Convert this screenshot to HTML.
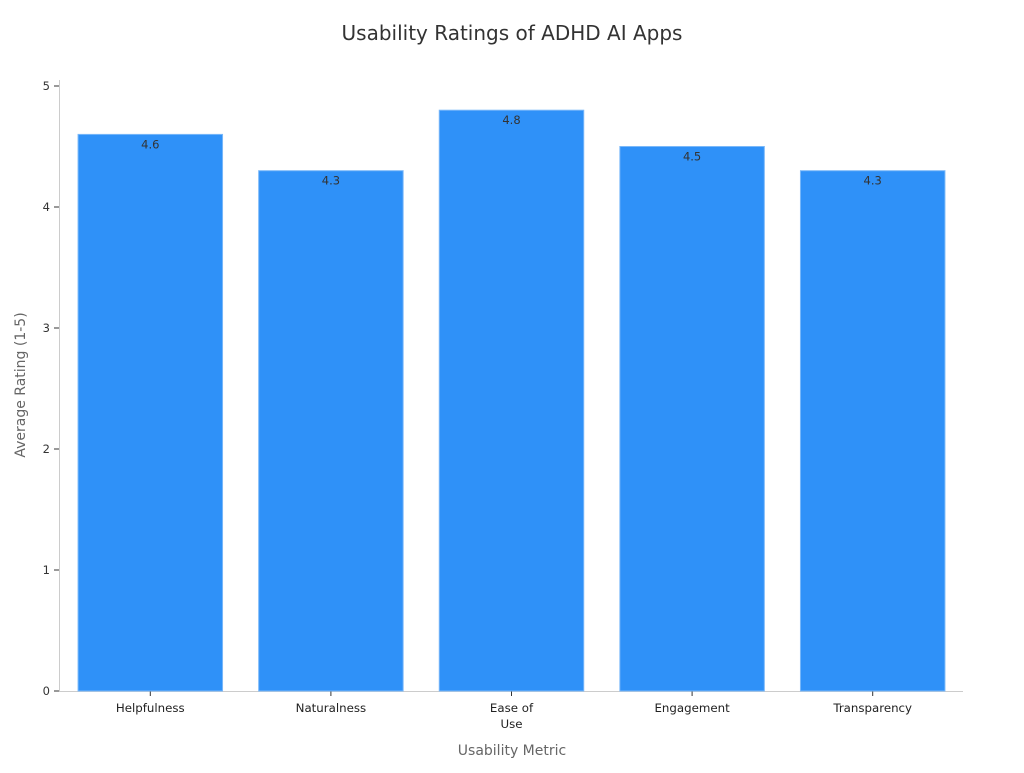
<!DOCTYPE html>
<html><head><meta charset="utf-8"><style>
body{margin:0;background:#fff;width:1024px;height:768px;overflow:hidden}
svg text{font-family:"DejaVu Sans","Liberation Sans",sans-serif}
</style></head><body>
<svg id="chart" width="1024" height="768">
<text x="512" y="40" text-anchor="middle" font-size="20" fill="#333">Usability Ratings of ADHD AI Apps</text>
<g id="yaxis"></g>
<g id="xaxis"></g>
<g id="bars"></g>
<text x="512" y="755" text-anchor="middle" font-size="14" fill="#666">Usability Metric</text>
<text transform="translate(25,385) rotate(-90)" text-anchor="middle" font-size="14" fill="#666">Average Rating (1-5)</text>
</svg>
<script>
const categories=[["Helpfulness"],["Naturalness"],["Ease of","Use"],["Engagement"],["Transparency"]];
const values=[4.6,4.3,4.8,4.5,4.3];
const valueLabels=["4.6","4.3","4.8","4.5","4.3"];
const yTicks=[0,1,2,3,4,5];
const NS="http://www.w3.org/2000/svg";
const x0=60,x1=963,y0=691,y5=86;
const yScale=v=>y0-(v/5)*(y0-y5);
const band=(x1-x0)/categories.length;
const xScale=i=>x0+band*i;
function mk(t,a,p){const e=document.createElementNS(NS,t);for(const k in a)e.setAttribute(k,a[k]);p.appendChild(e);return e;}
const ya=document.getElementById('yaxis'),xa=document.getElementById('xaxis'),bg=document.getElementById('bars');
const yl=mk('line',{x1:59.5,x2:59.5,y1:80,y2:y0,stroke:'#ccc'},ya);


const xl=mk('line',{x1:59,x2:963,y1:y0+0.5,y2:y0+0.5,stroke:'#ccc'},xa);


yTicks.forEach(t=>{const y=yScale(t);
mk('line',{x1:54,x2:59,y1:y,y2:y,stroke:'#333'},ya);
const tx=mk('text',{x:50,y:y+4,'text-anchor':'end','font-size':11.5,fill:'#333'},ya);tx.textContent=t;

});
categories.forEach((c,i)=>{const cx=xScale(i)+band/2,bw=band*0.8,y=yScale(values[i]);
const r=mk('rect',{x:cx-bw/2,y:y,width:bw,height:y0-y,fill:'#2f91f8',stroke:'#7ab8f9','stroke-width':1},bg);


const v=mk('text',{x:cx,y:y+14,'text-anchor':'middle','font-size':11.5,fill:'#333'},bg);v.textContent=valueLabels[i];


mk('line',{x1:cx,x2:cx,y1:y0,y2:y0+5,stroke:'#333'},xa);
c.forEach((ln,j)=>{const t=mk('text',{x:cx,y:712+j*16,'text-anchor':'middle','font-size':11.8,fill:'#222'},xa);t.textContent=ln;

});});
</script>
</body></html>
